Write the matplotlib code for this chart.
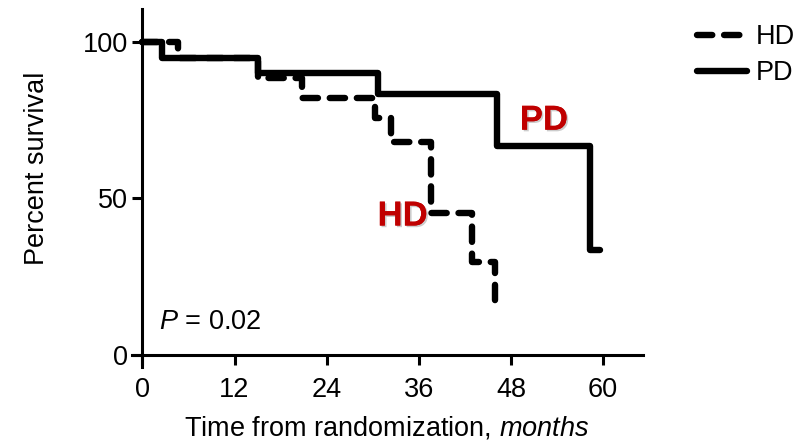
import matplotlib
matplotlib.use("Agg")
import matplotlib.pyplot as plt
import matplotlib.patheffects as pe

plt.rcParams['font.family'] = ['Liberation Sans', 'DejaVu Sans']
plt.rcParams['mathtext.fontset'] = 'custom'
plt.rcParams['mathtext.it'] = 'Liberation Sans:italic'
plt.rcParams['mathtext.rm'] = 'Liberation Sans'
plt.rcParams['lines.scale_dashes'] = False

# Kaplan-Meier steps
hd_months = [0, 4.6, 15, 20.8, 30.3, 32.4, 37.6, 42.9, 45.9]
hd_surv = [100, 94.8, 88.4, 82.2, 75.8, 68.1, 45.3, 29.8, 14.8]
pd_months = [0, 2.5, 15, 30.7, 46.2, 58.3, 59.6]
pd_surv = [100, 94.8, 90.0, 83.5, 66.8, 33.5, 33.5]

x_ticks = [0, 12, 24, 36, 48, 60]
y_ticks = [0, 50, 100]

fs = 19.5
fig = plt.figure(figsize=(7.99, 4.44), dpi=100)
ax = fig.add_axes([132 / 799, 1 - 367 / 444, (643 - 132) / 799, (367 - 9) / 444])

ax.step(hd_months, hd_surv, where='post', color='black', lw=4.6,
        dashes=(11, 8.5), dash_capstyle='round', solid_joinstyle='round', label='HD')
ax.step(pd_months, pd_surv, where='post', color='black', lw=4.6,
        solid_capstyle='round', solid_joinstyle='round', label='PD')

ax.set_xlim(-1.35, 65.2)
ax.set_ylim(-3.8, 110.5)
for s in ['top', 'right']:
    ax.spines[s].set_visible(False)
ax.spines['left'].set_position(('data', 0))
ax.spines['bottom'].set_position(('data', 0))
for s in ['left', 'bottom']:
    ax.spines[s].set_linewidth(2.2)
ax.set_xticks(x_ticks)
ax.set_yticks(y_ticks)
ax.tick_params(direction='out', length=7.5, width=2.2, labelsize=fs, pad=3)
ax.tick_params(axis='x', pad=8)

shadow = [pe.withSimplePatchShadow(offset=(1.2, -1.2), shadow_rgbFace='gray', alpha=0.4), pe.Normal()]
ax.text(52.3, 75, 'PD', color='#C00000', fontsize=25, fontweight='bold',
        ha='center', va='center', path_effects=shadow)
ax.text(33.9, 44.4, 'HD', color='#C00000', fontsize=25, fontweight='bold',
        ha='center', va='center', path_effects=shadow)
ax.text(2.2, 10.5, '$P$ = 0.02', fontsize=fs, ha='left', va='center')

fig.text(37 / 799, 1 - 168 / 444, 'Percent survival', rotation=90,
         fontsize=fs, ha='center', va='center')
fig.text(387 / 799, 1 - 428 / 444, 'Time from randomization, $\\it{months}$',
         fontsize=fs, ha='center', va='center')

fig.legend(loc='upper left', bbox_to_anchor=(697 / 799, 1 - 24 / 444), frameon=False,
           fontsize=fs, handlelength=1.85, handletextpad=0.33, labelspacing=0.38,
           borderpad=0, borderaxespad=0)

fig.savefig('out.png', dpi=100)
